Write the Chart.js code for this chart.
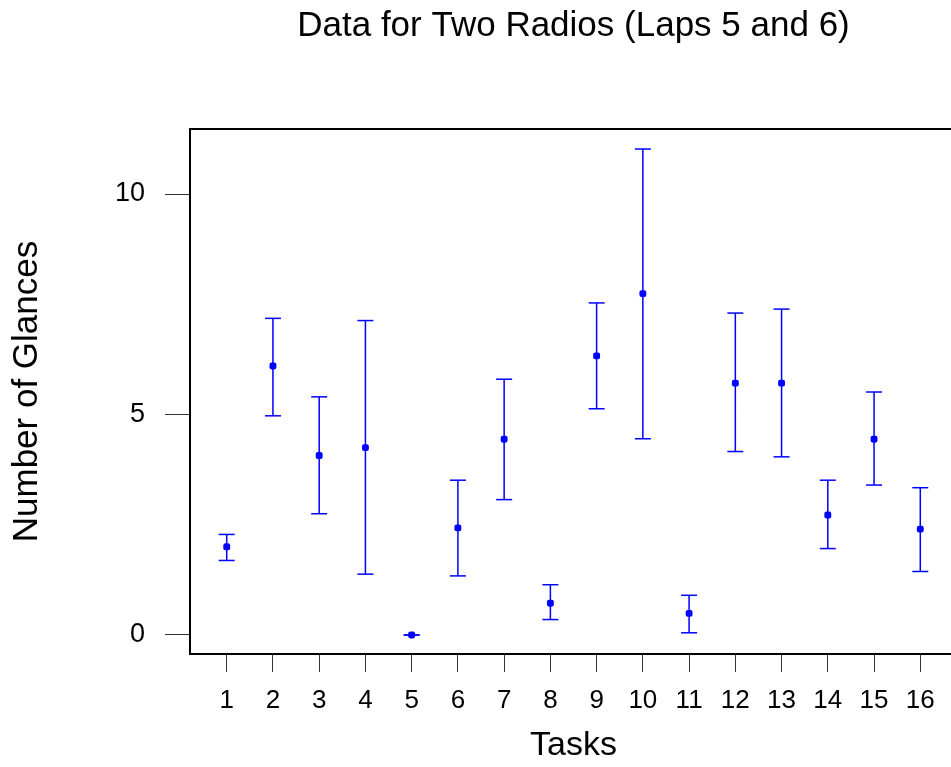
<!DOCTYPE html>
<html>
<head>
<meta charset="utf-8">
<title>Data for Two Radios (Laps 5 and 6)</title>
<script src="https://cdn.jsdelivr.net/npm/chart.js@4"></script>
<style>
    html, body { margin: 0; padding: 0; overflow: hidden; background: #fff; }
    #caja { width: 960px; height: 767px; }
    #myChart { width: 960px; height: 767px; }
</style>
</head>
<body>
<div id="caja"><canvas id="myChart" width="960" height="767"></canvas></div>
<script>
var tasks = [1, 2, 3, 4, 5, 6, 7, 8, 9, 10, 11, 12, 13, 14, 15, 16];
var means = [2.0, 6.1, 4.07, 4.25, 0, 2.43, 4.44, 0.72, 6.33, 7.74, 0.49, 5.71, 5.71, 2.72, 4.44, 2.4];
var upper = [2.28, 7.18, 5.4, 7.13, 0, 3.51, 5.8, 1.14, 7.53, 11.02, 0.9, 7.3, 7.39, 3.51, 5.51, 3.34];
var lower = [1.69, 4.97, 2.75, 1.38, 0, 1.34, 3.07, 0.35, 5.13, 4.45, 0.05, 4.16, 4.04, 1.96, 3.4, 1.44];
var yTicks = [0, 5, 10];

var blue = '#0000ff';

function CrearGraf() {
    var ctx = document.getElementById('myChart').getContext('2d');

    var puntos = [], arriba = [], abajo = [], barras = [];
    for (let i = 0; i < tasks.length; i++) {
        puntos.push({x: tasks[i], y: means[i]});
        arriba.push({x: tasks[i], y: upper[i]});
        abajo.push({x: tasks[i], y: lower[i]});
        // segmento vertical, cortado con null
        barras.push({x: tasks[i], y: lower[i]});
        barras.push({x: tasks[i], y: upper[i]});
        barras.push({x: tasks[i], y: null});
    }

    Chart.defaults.font.family = "'Liberation Sans', Arial, sans-serif";
    Chart.defaults.color = '#000';

    var xMin = 0.206, xMax = 16.794;

    var data = {
        datasets: [
            {data: puntos, pointStyle: 'rectRounded', pointRadius: 4, pointBackgroundColor: blue, pointBorderWidth: 0, showLine: false},
            {data: arriba, pointStyle: 'line', pointRadius: 8, pointBorderColor: blue, pointBorderWidth: 1.5, showLine: false},
            {data: abajo, pointStyle: 'line', pointRadius: 8, pointBorderColor: blue, pointBorderWidth: 1.5, showLine: false},
            {data: barras, showLine: true, spanGaps: false, pointRadius: 0, borderColor: blue, borderWidth: 1.5}
        ]
    };

    var options = {
        responsive: false,
        animation: false,
        layout: {autoPadding: false, padding: {left: 0, right: 3, top: 0, bottom: 0}},
        plugins: {
            legend: {display: false},
            tooltip: {enabled: false},
            title: {
                display: true,
                text: 'Data for Two Radios (Laps 5 and 6)',
                fullSize: false,
                font: {size: 35, weight: 'normal'},
                color: '#000',
                padding: {top: 5, bottom: 82}
            }
        },
        scales: {
            x: {
                type: 'linear', position: 'bottom', min: xMin, max: xMax,
                afterBuildTicks: function (s) { s.ticks = tasks.map(v => ({value: v})); },
                afterFit: function (s) { s.height = 113; },
                ticks: {font: {size: 26}, padding: 13, autoSkip: false, maxRotation: 0, color: '#000'},
                grid: {drawOnChartArea: false, drawTicks: true, tickLength: 18, color: '#333', lineWidth: 1},
                border: {display: true, color: '#000', width: 2},
                title: {display: true, text: 'Tasks', font: {size: 34}, color: '#000', padding: {top: 0, bottom: 1}}
            },
            xTop: {
                type: 'linear', position: 'top', min: xMin, max: xMax,
                afterFit: function (s) { s.height = 0; },
                ticks: {display: false},
                grid: {display: false},
                border: {display: true, color: '#000', width: 2}
            },
            y: {
                type: 'linear', position: 'left', min: -0.431, max: 11.474,
                afterBuildTicks: function (s) { s.ticks = yTicks.map(v => ({value: v})); },
                afterFit: function (s) { s.width = 190; },
                ticks: {font: {size: 27}, padding: 20, color: '#000'},
                grid: {drawOnChartArea: false, drawTicks: true, tickLength: 25, color: '#333', lineWidth: 1},
                border: {display: true, color: '#000', width: 2},
                title: {display: true, text: 'Number of Glances', font: {size: 35}, color: '#000', padding: {top: 6, bottom: 0}}
            }
        }
    };

    var myChart = new Chart(ctx, {
        type: 'scatter',
        data: data,
        options: options
    });
}

CrearGraf();
</script>
</body>
</html>
